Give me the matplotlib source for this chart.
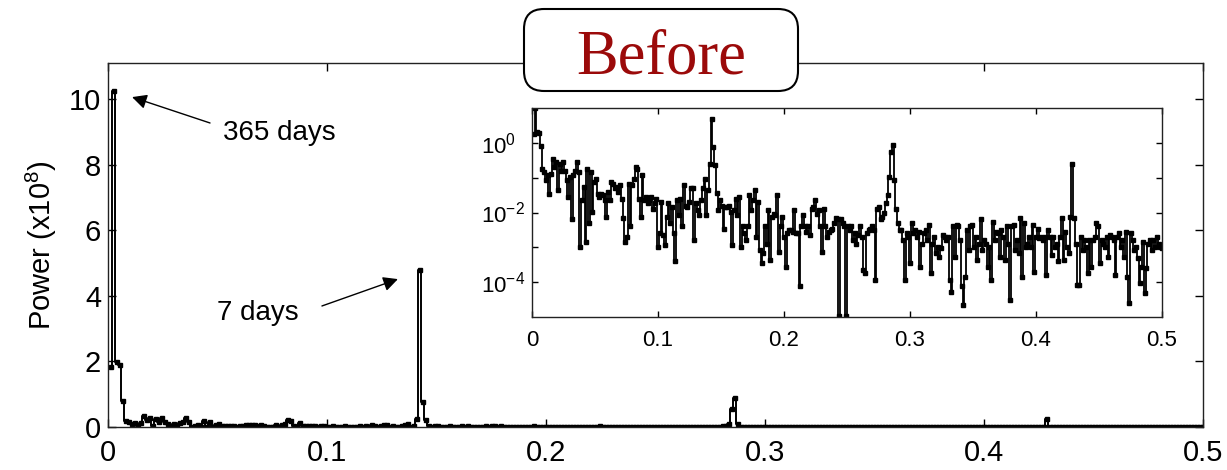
"""
Power spectrum of daily series ("Before"), linear scale with log-scale inset
"""

import numpy as np
import matplotlib.pyplot as plt
from matplotlib.patches import FancyBboxPatch

plt.rcParams['font.family'] = ['Liberation Sans', 'DejaVu Sans']
plt.rcParams['mathtext.default'] = 'regular'

# record length in days -> frequency bin spacing 1/n_days (cycles/day)
n_days = 730

# log10 of power (x1e8), bins 1..365
power_log = [
    0.26, 1.01, 0.30, 0.28, -0.10, -0.75, -0.85, -1.08, -0.93, -1.46,
    -0.90, -0.46, -0.70, -0.55, -1.36, -0.60, -0.80, -0.55, -0.80, -1.08,
    -1.55, -0.98, -2.20, -0.93, -0.80, -0.55, -0.85, -3.00, -1.65, -1.27,
    -2.84, -0.75, -2.30, -0.84, -1.98, -1.12, -1.03, -1.46, -1.55, -1.46,
    -1.50, -1.65, -2.12, -1.41, -1.65, -1.12, -1.17, -1.30, -1.27, -1.41,
    -1.22, -1.60, -2.17, -2.84, -2.70, -1.17, -2.40, -1.22, -1.03, -0.70,
    -0.75, -1.60, -2.12, -0.93, -1.65, -1.55, -1.74, -1.65, -1.55, -1.89,
    -1.74, -1.60, -2.98, -2.60, -1.70, -2.65, -2.93, -2.12, -1.74, -2.30,
    -1.84, -2.60, -3.40, -1.65, -2.08, -1.60, -2.40, -1.22, -1.80, -1.84,
    -1.70, -1.31, -1.31, -2.79, -1.74, -1.93, -2.08, -1.65, -1.31, -1.03,
    -2.08, -1.36, -0.60, 0.68, -0.12, -0.65, -1.45, -1.93, -1.65, -1.80,
    -2.46, -1.84, -1.84, -1.80, -1.98, -2.93, -1.93, -1.60, -2.08, -1.55,
    -2.98, -2.40, -2.60, -2.79, -2.40, -1.50, -1.93, -1.65, -1.36, -2.70,
    -1.70, -3.08, -3.46, -3.17, -2.40, -2.89, -1.93, -3.36, -2.12, -2.03,
    -2.08, -1.50, -3.12, -2.40, -2.12, -2.70, -3.55, -2.60, -2.50, -2.50,
    -2.55, -1.93, -2.60, -2.60, -4.12, -2.40, -2.08, -2.40, -2.55, -2.40,
    -2.65, -1.89, -1.84, -1.65, -2.03, -1.93, -2.40, -3.12, -1.89, -2.40,
    -2.70, -2.55, -2.50, -2.46, -2.30, -2.17, -2.20, -4.98, -2.20, -2.30,
    -2.40, -4.98, -2.40, -2.50, -2.40, -2.79, -2.60, -2.89, -2.65, -2.40,
    -2.70, -3.65, -3.74, -2.60, -2.50, -2.46, -2.40, -2.50, -3.93, -1.89,
    -1.84, -2.20, -2.12, -2.00, -1.74, -1.50, -0.98, -0.27, -0.06, -1.08,
    -1.90, -2.30, -2.50, -2.50, -2.79, -3.93, -2.60, -2.70, -3.46, -2.30,
    -2.60, -2.50, -2.70, -2.55, -3.55, -2.89, -2.60, -2.50, -2.79, -2.36,
    -3.74, -2.89, -2.70, -3.17, -2.98, -3.27, -3.03, -2.65, -2.70, -2.79,
    -2.70, -3.93, -4.27, -2.40, -3.27, -2.36, -2.40, -2.79, -4.12, -4.65,
    -3.84, -2.50, -3.08, -2.40, -2.36, -2.98, -2.70, -3.36, -2.89, -2.20,
    -3.08, -2.79, -2.89, -3.55, -2.98, -3.93, -2.27, -2.79, -2.55, -2.60,
    -3.27, -2.50, -2.70, -3.36, -2.40, -2.89, -4.50, -2.40, -2.36, -3.08,
    -2.79, -3.17, -2.17, -3.84, -2.30, -2.98, -2.89, -2.70, -2.98, -2.36,
    -3.70, -2.70, -2.46, -2.74, -2.70, -2.79, -2.70, -3.79, -2.50, -2.70,
    -3.22, -2.70, -2.98, -2.89, -3.40, -2.70, -2.17, -3.36, -2.55, -2.98,
    -3.17, -2.12, -0.60, -2.17, -2.89, -4.08, -4.08, -2.70, -3.08, -2.79,
    -2.98, -3.74, -2.79, -3.55, -2.79, -2.70, -2.30, -2.40, -3.46, -2.79,
    -2.89, -2.98, -2.70, -3.27, -2.65, -2.70, -2.79, -3.79, -2.70, -2.60,
    -2.98, -2.79, -3.27, -2.55, -3.84, -4.60, -2.60, -2.79, -3.08, -2.98,
    -3.31, -4.03, -3.55, -2.84, -4.31, -3.60, -2.89, -2.79, -3.08, -2.79,
    -2.98, -2.70, -2.89, -2.98, -3.03,
]

x_ticks = [0, 0.1, 0.2, 0.3, 0.4, 0.5]
x_labels = ['0', '0.1', '0.2', '0.3', '0.4', '0.5']
y_ticks = [0, 2, 4, 6, 8, 10]
y_labels = ['0', '2', '4', '6', '8', '10']
inset_y_ticks = [1e-4, 1e-3, 1e-2, 1e-1, 1e0]
inset_y_labels = ['$10^{-4}$', '', '$10^{-2}$', '', '$10^{0}$']

freq = np.arange(1, len(power_log) + 1) / n_days
power = 10.0 ** np.array(power_log)

fig = plt.figure(figsize=(12.27, 4.70), dpi=100)

# main axes (linear)
ax = fig.add_axes([0.0880, 0.0915, 0.8924, 0.7745])
ax.plot(freq, power, drawstyle='steps-mid', color='k', lw=1.4,
        marker='s', ms=3.0, mec='k', mfc='k')
ax.set_xlim(0, 0.5)
ax.set_ylim(0, 11.1)
ax.set_xticks(x_ticks)
ax.set_xticklabels(x_labels)
ax.set_yticks(y_ticks)
ax.set_yticklabels(y_labels)
ax.tick_params(direction='in', top=True, right=True, length=6, width=1,
               labelsize=21)
ax.tick_params(axis='x', pad=9)
ax.tick_params(axis='y', pad=5)
for s in ax.spines.values():
    s.set_linewidth(1.0)
    s.set_color('#222222')
ax.set_ylabel('Power (x10$^8$)', fontsize=21)
ax.yaxis.set_label_coords(-0.045, 0.5)

# annotations
ax.annotate('', xy=(0.011, 10.06), xytext=(0.0466, 9.27),
            arrowprops=dict(arrowstyle='-|>', color='k', lw=1.0,
                            mutation_scale=22, shrinkA=0, shrinkB=0))
ax.text(0.0525, 8.96, '365 days', fontsize=20, va='center', ha='left')
ax.annotate('', xy=(0.1324, 4.51), xytext=(0.0977, 3.69),
            arrowprops=dict(arrowstyle='-|>', color='k', lw=1.0,
                            mutation_scale=22, shrinkA=0, shrinkB=0))
ax.text(0.0498, 3.48, '7 days', fontsize=20, va='center', ha='left')

# inset (log)
axin = fig.add_axes([0.4336, 0.3255, 0.5134, 0.4447])
axin.plot(freq, power, drawstyle='steps-mid', color='k', lw=1.3,
          marker='s', ms=3.3, mec='k', mfc='k')
axin.set_yscale('log')
axin.set_xlim(0, 0.5)
axin.set_ylim(1e-5, 1e1)
axin.set_xticks(x_ticks)
axin.set_xticklabels(x_labels)
axin.set_yticks(inset_y_ticks)
axin.set_yticklabels(inset_y_labels)
axin.minorticks_off()
axin.tick_params(direction='in', top=True, right=True, length=4, width=1,
                 labelsize=16)
axin.tick_params(axis='x', pad=9)
axin.tick_params(axis='y', pad=37)
for lbl in axin.get_yticklabels():
    lbl.set_ha('left')
for s in axin.spines.values():
    s.set_linewidth(1.0)
    s.set_color('#222222')

# "Before" title box
box = FancyBboxPatch((5.24, 3.79), 2.74, 0.82,
                     boxstyle='round,pad=0,rounding_size=0.2',
                     transform=fig.dpi_scale_trans, facecolor='white',
                     edgecolor='k', linewidth=1.5, zorder=5)
fig.add_artist(box)
fig.text(661 / 1227, 1 - 73 / 470, 'Before', fontsize=45,
         family='Liberation Serif', color='#9b0a0a',
         ha='center', va='baseline', zorder=6)

fig.savefig('out.png', dpi=100)
